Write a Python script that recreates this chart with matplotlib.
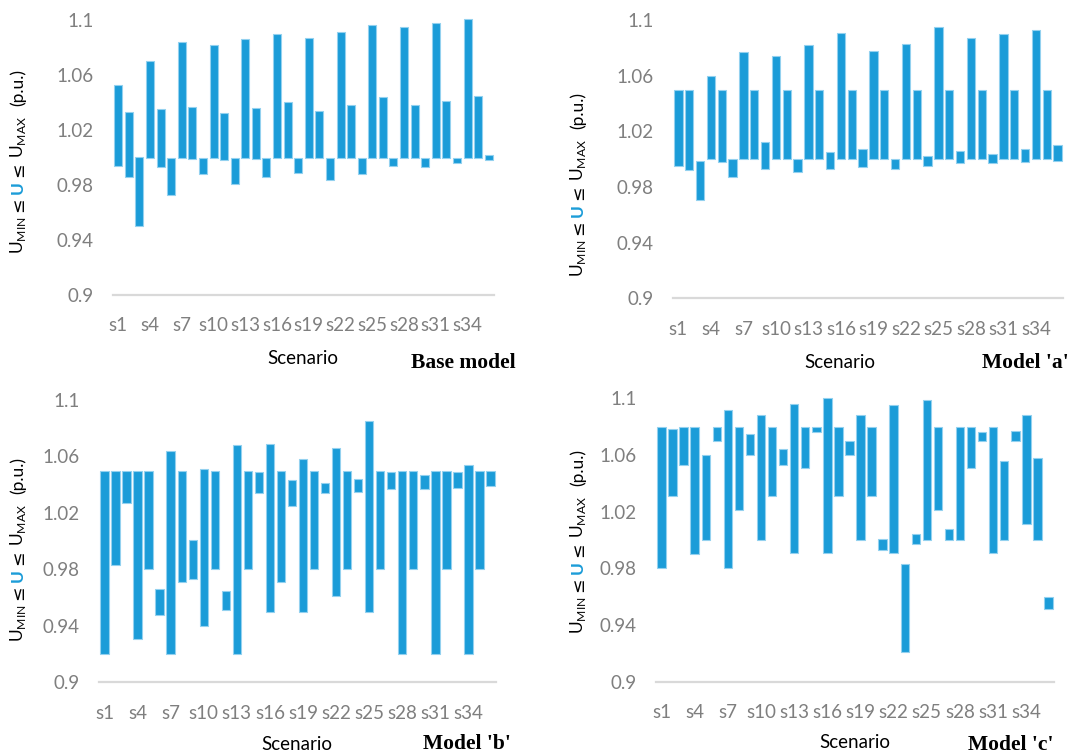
import numpy as np
import matplotlib
matplotlib.use("Agg")
import matplotlib.pyplot as plt

# scenarios s1..s36
scenarios = ["s%d" % i for i in range(1, 37)]
tick_labels = ["s%d" % i for i in range(1, 37, 3)]
yticks = [0.9, 0.94, 0.98, 1.02, 1.06, 1.1]

base_low = [0.994, 0.986, 0.950, 1.0, 0.993, 0.973, 1.0, 0.999, 0.988, 1.0, 0.998, 0.981,
            1.0, 0.999, 0.986, 1.0, 1.0, 0.989, 1.0, 1.0, 0.984, 1.0, 1.0, 0.988,
            1.0, 1.0, 0.994, 1.0, 1.0, 0.993, 1.0, 1.0, 0.996, 1.0, 1.0, 0.998]
base_high = [1.053, 1.033, 1.0, 1.070, 1.035, 1.0, 1.084, 1.037, 1.0, 1.082, 1.032, 1.0,
             1.086, 1.036, 1.0, 1.090, 1.040, 1.0, 1.087, 1.034, 1.0, 1.091, 1.038, 1.0,
             1.096, 1.044, 1.0, 1.095, 1.038, 1.0, 1.098, 1.041, 1.0, 1.101, 1.045, 1.002]

a_low = [0.995, 0.992, 0.971, 1.0, 0.998, 0.987, 1.0, 1.0, 0.993, 1.0, 1.0, 0.991,
         1.0, 1.0, 0.993, 1.0, 1.0, 0.994, 1.0, 1.0, 0.993, 1.0, 1.0, 0.995,
         1.0, 1.0, 0.997, 1.0, 1.0, 0.997, 1.0, 1.0, 0.998, 1.0, 1.0, 0.999]
a_high = [1.05, 1.05, 0.999, 1.06, 1.05, 1.0, 1.077, 1.05, 1.012, 1.074, 1.05, 1.0,
          1.082, 1.05, 1.005, 1.091, 1.05, 1.007, 1.078, 1.05, 1.0, 1.083, 1.05, 1.002,
          1.095, 1.05, 1.006, 1.087, 1.05, 1.004, 1.090, 1.05, 1.007, 1.093, 1.05, 1.010]

b_low = [0.92, 0.983, 1.027, 0.931, 0.98, 0.948, 0.92, 0.971, 0.973, 0.94, 0.98, 0.951,
         0.92, 0.98, 1.034, 0.95, 0.971, 1.025, 0.95, 0.98, 1.034, 0.961, 0.98, 1.035,
         0.95, 0.98, 1.037, 0.92, 0.98, 1.037, 0.92, 0.98, 1.038, 0.92, 0.98, 1.039]
b_high = [1.05, 1.05, 1.05, 1.05, 1.05, 0.966, 1.064, 1.05, 1.001, 1.051, 1.05, 0.965,
          1.068, 1.05, 1.049, 1.069, 1.05, 1.043, 1.058, 1.05, 1.041, 1.066, 1.05, 1.044,
          1.085, 1.05, 1.049, 1.05, 1.05, 1.047, 1.05, 1.05, 1.049, 1.054, 1.05, 1.05]

c_low = [0.98, 1.031, 1.053, 0.99, 1.0, 1.07, 0.98, 1.021, 1.06, 1.0, 1.031, 1.053,
         0.991, 1.051, 1.076, 0.991, 1.031, 1.06, 1.0, 1.031, 0.993, 0.991, 0.921, 0.997,
         1.0, 1.021, 1.0, 1.0, 1.051, 1.07, 0.991, 1.0, 1.07, 1.011, 1.0, 0.951]
c_high = [1.08, 1.078, 1.08, 1.08, 1.06, 1.08, 1.092, 1.08, 1.075, 1.088, 1.08, 1.064,
          1.096, 1.08, 1.08, 1.1, 1.08, 1.07, 1.088, 1.08, 1.001, 1.095, 0.983, 1.004,
          1.099, 1.08, 1.008, 1.08, 1.08, 1.076, 1.08, 1.056, 1.077, 1.088, 1.058, 0.96]

W, H = 1073, 755
bar_col = "#1b9cd8"
edge_col = "#93d1ef"
tick_col = "#7f7f7f"

fig = plt.figure(figsize=(W / 100, H / 100), dpi=100)


def px_axes(x0, x1, ytop, ybot):
    return fig.add_axes([x0 / W, (H - ybot) / H, (x1 - x0) / W, (ybot - ytop) / H])


def draw_panel(ax, low, high):
    x = np.arange(1, 37)
    low = np.array(low)
    high = np.array(high)
    ax.bar(x, high - low, bottom=low, width=0.76, color=bar_col,
           edgecolor=edge_col, linewidth=0.8, clip_on=False, zorder=3)
    ax.set_xlim(0.5, 36.5)
    ax.set_ylim(0.9, 1.1)
    ax.set_yticks(yticks)
    ax.set_yticklabels(["0.9", "0.94", "0.98", "1.02", "1.06", "1.1"])
    ax.set_xticks(np.arange(1, 37, 3))
    ax.set_xticklabels(tick_labels)
    for s in ["top", "right", "left"]:
        ax.spines[s].set_visible(False)
    ax.spines["bottom"].set_color("#d9d9d9")
    ax.spines["bottom"].set_linewidth(1.6)
    ax.tick_params(axis="y", length=0, pad=14, labelcolor=tick_col, labelsize=13.5)
    ax.tick_params(axis="x", length=0, pad=16, labelcolor=tick_col, labelsize=13.5)
    for t in ax.get_xticklabels() + ax.get_yticklabels():
        t.set_family("Lato")


def ylabel(xc, ybottom):
    # stack rotated pieces from bottom to top, middle U in blue
    renderer = fig.canvas.get_renderer()
    parts = [("U$_{\\mathregular{MIN}}$", "black", "normal", "Lato"),
             ("\u2264", "black", "normal", "DejaVu Sans"),
             ("U", bar_col, "bold", "Lato"),
             ("\u2264", "black", "normal", "DejaVu Sans"),
             ("U$_{\\mathregular{MAX}}$", "black", "normal", "Lato"),
             ("(p.u.)", "black", "normal", "Lato")]
    gaps = [4, 4, 4, 4, 10, 0]
    y = ybottom
    for (txt, col, wt, fam), g in zip(parts, gaps):
        t = fig.text(xc / W, (H - y) / H, txt, rotation=90, ha="center", va="bottom",
                     color=col, fontweight=wt, fontsize=12.5, family=fam)
        bb = t.get_window_extent(renderer)
        y = y - bb.height - g


ax1 = px_axes(113, 494, 20, 295)
draw_panel(ax1, base_low, base_high)
ax2 = px_axes(673, 1063, 20, 298.3)
draw_panel(ax2, a_low, a_high)
ax3 = px_axes(99, 496, 400, 682.3)
draw_panel(ax3, b_low, b_high)
ax4 = px_axes(656, 1054, 398.3, 681.7)
draw_panel(ax4, c_low, c_high)

ylabel(18, 254)
ylabel(578, 277)
ylabel(18, 642)
ylabel(578, 634)

for xc, yc in [(303, 358), (840, 362), (297, 744), (855, 743)]:
    fig.text(xc / W, (H - yc) / H, "Scenario", ha="center", va="center",
             fontsize=13.5, family="Lato")

for xr, yc, txt in [(516, 363, "Base model"), (1069, 363, "Model 'a'"),
                    (511, 744, "Model 'b'"), (1054, 745, "Model 'c'")]:
    fig.text(xr / W, (H - yc) / H, txt, ha="right", va="center", fontsize=15.5,
             fontweight="bold", family="Liberation Serif")

fig.savefig("out.png", dpi=100)
